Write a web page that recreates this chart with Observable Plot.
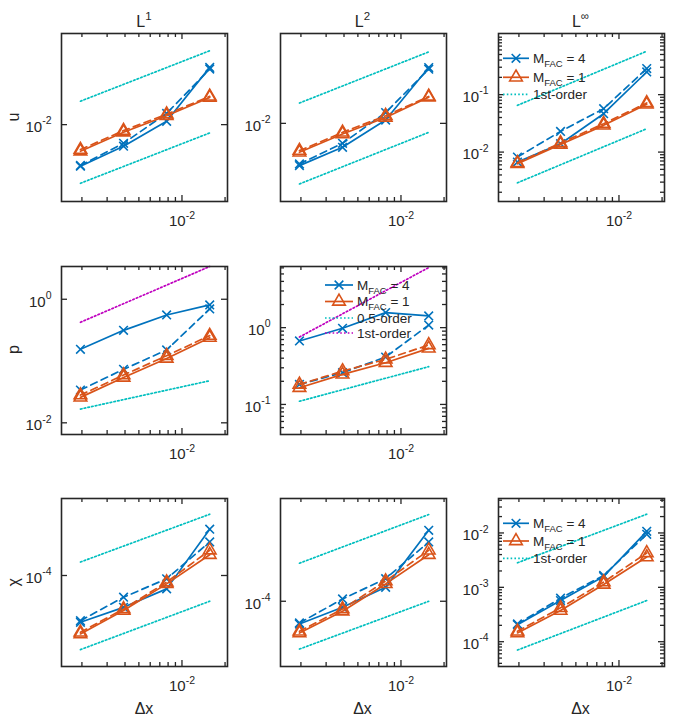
<!DOCTYPE html>
<html>
<head>
<meta charset="utf-8">
<script src="https://cdn.jsdelivr.net/npm/d3@7"></script>
<script src="https://cdn.jsdelivr.net/npm/@observablehq/plot@0.6"></script>
<style>
html, body { margin: 0; padding: 0; background: #fff; }
#fig { position: relative; width: 674px; height: 723px; overflow: hidden; font-family: "Liberation Sans", Arial, Helvetica, sans-serif; }
#fig svg { position: absolute; }
</style>
</head>
<body>
<div id="fig"></div>
<script>
// ---------------- data ----------------
const dx = [1/512, 1/256, 1/128, 1/64];          // grid spacing
const colTitles = ["L", "L", "L"];
const colSups = ["1", "2", "\u221E"];
const rowLabels = ["u", "p", "\u03C7"];
const xLabel = "\u0394x";
const xMajor = [1e-2];

// u
const u_L1_m4  = [4.25e-3, 6.41e-3, 1.07e-2, 3.25e-2];
const u_L1_m4b = [4.31e-3, 6.81e-3, 1.26e-2, 3.14e-2];
const u_L1_m1  = [5.78e-3, 8.55e-3, 1.20e-2, 1.75e-2];
const u_L1_m1b = [5.98e-3, 8.84e-3, 1.24e-2, 1.79e-2];
const u_L1_refHi = [1.62e-2, 4.58e-2];
const u_L1_refLo = [2.99e-3, 8.43e-3];

const u_L2_m4  = [4.19e-3, 6.11e-3, 1.07e-2, 3.16e-2];
const u_L2_m4b = [4.34e-3, 6.63e-3, 1.25e-2, 3.05e-2];
const u_L2_m1  = [5.51e-3, 8.03e-3, 1.13e-2, 1.71e-2];
const u_L2_m1b = [5.70e-3, 8.31e-3, 1.17e-2, 1.74e-2];
const u_L2_refHi = [1.52e-2, 4.36e-2];
const u_L2_refLo = [2.87e-3, 8.31e-3];

const u_Li_m4  = [6.69e-3, 1.40e-2, 4.66e-2, 0.248];
const u_Li_m4b = [8.18e-3, 2.29e-2, 5.70e-2, 0.284];
const u_Li_m1  = [6.26e-3, 1.36e-2, 2.92e-2, 6.78e-2];
const u_Li_m1b = [6.51e-3, 1.44e-2, 3.12e-2, 7.16e-2];
const u_Li_refHi = [6.52e-2, 0.57];
const u_Li_refLo = [2.92e-3, 2.55e-2];

// p
const p_L1_m4  = [0.155, 0.314, 0.557, 0.81];
const p_L1_m4b = [0.0339, 0.0733, 0.151, 0.697];
const p_L1_m1  = [0.0258, 0.0543, 0.110, 0.239];
const p_L1_m1b = [0.0281, 0.0593, 0.122, 0.258];
const p_L1_refHalf = [0.0167, 0.048];
const p_L1_refOne  = [0.424, 3.39];

const p_L2_m4  = [0.670, 0.98, 1.57, 1.42];
const p_L2_m4b = [0.182, 0.259, 0.414, 1.08];
const p_L2_m1  = [0.165, 0.246, 0.349, 0.537];
const p_L2_m1b = [0.182, 0.272, 0.386, 0.594];
const p_L2_refHalf = [0.110, 0.310];
const p_L2_refOne  = [0.755, 6.06];

// chi
const c_L1_m4  = [3.62e-5, 5.01e-5, 7.48e-5, 2.73e-4];
const c_L1_m4b = [3.75e-5, 6.24e-5, 9.30e-5, 2.07e-4];
const c_L1_m1  = [2.81e-5, 4.67e-5, 8.34e-5, 1.57e-4];
const c_L1_m1b = [2.91e-5, 4.84e-5, 8.65e-5, 1.73e-4];
const c_L1_refHi = [1.34e-4, 3.78e-4];
const c_L1_refLo = [2.0e-5, 5.72e-5];

const c_L2_m4  = [6.14e-5, 8.79e-5, 1.35e-4, 4.57e-4];
const c_L2_m4b = [6.28e-5, 1.05e-4, 1.62e-4, 3.56e-4];
const c_L2_m1  = [5.06e-5, 8.07e-5, 1.45e-4, 2.71e-4];
const c_L2_m1b = [5.25e-5, 8.48e-5, 1.54e-4, 2.98e-4];
const c_L2_refHi = [2.26e-4, 6.41e-4];
const c_L2_refLo = [3.59e-5, 1.0e-4];

const c_Li_m4  = [2.06e-4, 5.71e-4, 1.58e-3, 1.07e-2];
const c_Li_m4b = [2.12e-4, 6.31e-4, 1.65e-3, 9.45e-3];
const c_Li_m1  = [1.45e-4, 3.74e-4, 1.13e-3, 3.60e-3];
const c_Li_m1b = [1.55e-4, 4.19e-4, 1.25e-3, 4.28e-3];
const c_Li_refHi = [2.83e-3, 2.21e-2];
const c_Li_refLo = [7.02e-5, 5.71e-4];

const legendLabels = ["4", "1"];       // M_FAC values
const refLabels = ["0.5-order", "1st-order"];

// ---------------- styling / layout ----------------
const AX = "#262626";
const BLUE = "#0072BD", ORANGE = "#D95319", CYAN = "#00BFBF", MAGENTA = "#BF00BF";
const W = 166, H = 168;
const ML = 60, MR = 14, MT = 12, MB = 36;
const xDomain = [1.44e-3, 2.08e-2];
const colLeft = [61, 279.5, 497.5];
const rowTop = [33, 265.5, 498.3];

const panels = [
  {col: 0, row: 0, yDomain: [10 ** -2.6875, 10 ** -1.185], yTicks: [1e-2], minor: false,
   m4: u_L1_m4, m4b: u_L1_m4b, m1: u_L1_m1, m1b: u_L1_m1b, refs: [[u_L1_refHi, CYAN], [u_L1_refLo, CYAN]]},
  {col: 1, row: 0, yDomain: [10 ** -2.699, 10 ** -1.196], yTicks: [1e-2], minor: false,
   m4: u_L2_m4, m4b: u_L2_m4b, m1: u_L2_m1, m1b: u_L2_m1b, refs: [[u_L2_refHi, CYAN], [u_L2_refLo, CYAN]]},
  {col: 2, row: 0, yDomain: [1.38e-3, 1.16], yTicks: [1e-2, 1e-1], minor: true,
   m4: u_Li_m4, m4b: u_Li_m4b, m1: u_Li_m1, m1b: u_Li_m1b, refs: [[u_Li_refHi, CYAN], [u_Li_refLo, CYAN]]},
  {col: 0, row: 1, yDomain: [6.47e-3, 3.39], yTicks: [1e-2, 1e0], minor: false,
   m4: p_L1_m4, m4b: p_L1_m4b, m1: p_L1_m1, m1b: p_L1_m1b, refs: [[p_L1_refOne, MAGENTA], [p_L1_refHalf, CYAN]]},
  {col: 1, row: 1, yDomain: [0.0406, 6.25], yTicks: [1e-1, 1e0], minor: true,
   m4: p_L2_m4, m4b: p_L2_m4b, m1: p_L2_m1, m1b: p_L2_m1b, refs: [[p_L2_refOne, MAGENTA], [p_L2_refHalf, CYAN]]},
  {col: 0, row: 2, yDomain: [10 ** -4.858, 10 ** -3.274], yTicks: [1e-4], minor: false,
   m4: c_L1_m4, m4b: c_L1_m4b, m1: c_L1_m1, m1b: c_L1_m1b, refs: [[c_L1_refHi, CYAN], [c_L1_refLo, CYAN]]},
  {col: 1, row: 2, yDomain: [10 ** -4.607, 10 ** -3.044], yTicks: [1e-4], minor: false,
   m4: c_L2_m4, m4b: c_L2_m4b, m1: c_L2_m1, m1b: c_L2_m1b, refs: [[c_L2_refHi, CYAN], [c_L2_refLo, CYAN]]},
  {col: 2, row: 2, yDomain: [3.5e-5, 0.043], yTicks: [1e-4, 1e-3, 1e-2], minor: true,
   m4: c_Li_m4, m4b: c_Li_m4b, m1: c_Li_m1, m1b: c_Li_m1b, refs: [[c_Li_refHi, CYAN], [c_Li_refLo, CYAN]]}
];

function decadeTicks(domain) {
  const [lo, hi] = domain, out = [];
  for (let e = Math.floor(Math.log10(lo)) - 1; e <= Math.ceil(Math.log10(hi)); e++)
    for (let k = 1; k <= 9; k++) { const v = k * Math.pow(10, e); if (v >= lo * 0.9999 && v <= hi * 1.0001) out.push(v); }
  return out;
}
const notIn = (arr) => (v) => !arr.some(m => Math.abs(v / m - 1) < 1e-6);
const pts = (vals) => dx.map((x, i) => ({x, y: vals[i]}));
const refPts = (vals) => [{x: dx[0], y: vals[0]}, {x: dx[dx.length - 1], y: vals[1]}];
const fmt = (d) => "10^" + Math.round(Math.log10(d));

const fig = document.getElementById("fig");

function supify(svg) {
  d3.select(svg).selectAll('g[aria-label$="tick label"] text').each(function () {
    const t = this.textContent;
    const parts = t.split("^");
    if (parts.length < 2) return;
    const s = d3.select(this);
    s.text(null);
    s.append("tspan").text(parts[0]);
    s.append("tspan").attr("dy", "-0.72em").attr("font-size", "0.7em").text(parts[1]);
  });
}

for (const p of panels) {
  const xMinor = decadeTicks(xDomain).filter(notIn(xMajor));
  const yMinor = p.minor ? decadeTicks(p.yDomain).filter(notIn(p.yTicks)) : [];
  const tk = {stroke: AX, strokeWidth: 1.3};
  const lineW = 1.7;
  const marks = [];
  for (const [vals, color] of p.refs)
    marks.push(Plot.line(refPts(vals), {x: "x", y: "y", stroke: color, strokeWidth: 1.7, strokeDasharray: "1.6,2.2"}));
  marks.push(
    Plot.line(pts(p.m4), {x: "x", y: "y", stroke: BLUE, strokeWidth: lineW}),
    Plot.line(pts(p.m4b), {x: "x", y: "y", stroke: BLUE, strokeWidth: lineW, strokeDasharray: "7,4.5"}),
    Plot.dot(pts(p.m4), {x: "x", y: "y", symbol: "times", r: 4, stroke: BLUE, strokeWidth: 1.6, fill: "none"}),
    Plot.dot(pts(p.m4b), {x: "x", y: "y", symbol: "times", r: 4, stroke: BLUE, strokeWidth: 1.6, fill: "none"}),
    Plot.line(pts(p.m1), {x: "x", y: "y", stroke: ORANGE, strokeWidth: lineW}),
    Plot.line(pts(p.m1b), {x: "x", y: "y", stroke: ORANGE, strokeWidth: lineW, strokeDasharray: "7,4.5"}),
    Plot.dot(pts(p.m1), {x: "x", y: "y", symbol: "triangle", r: 4.7, stroke: ORANGE, strokeWidth: 1.6, fill: "none"}),
    Plot.dot(pts(p.m1b), {x: "x", y: "y", symbol: "triangle", r: 4.7, stroke: ORANGE, strokeWidth: 1.6, fill: "none"}),
    // inward ticks on all four sides
    Plot.ruleX(xMajor, {x: d => d, insetTop: H - 6, ...tk}),
    Plot.ruleX(xMajor, {x: d => d, insetBottom: H - 6, ...tk}),
    Plot.ruleX(xMinor, {x: d => d, insetTop: H - 4, ...tk}),
    Plot.ruleX(xMinor, {x: d => d, insetBottom: H - 4, ...tk}),
    Plot.ruleY(p.yTicks, {y: d => d, insetRight: W - 6, ...tk}),
    Plot.ruleY(p.yTicks, {y: d => d, insetLeft: W - 6, ...tk}),
    Plot.ruleY(yMinor, {y: d => d, insetRight: W - 4, ...tk}),
    Plot.ruleY(yMinor, {y: d => d, insetLeft: W - 4, ...tk}),
    Plot.frame({stroke: AX, strokeWidth: 1.6}),
    Plot.axisX(xMajor, {anchor: "bottom", tickSize: 0, tickPadding: 14, tickFormat: fmt, fontSize: 15, fill: AX, label: null}),
    Plot.axisY(p.yTicks, {anchor: "left", tickSize: 0, tickPadding: 10, tickFormat: fmt, fontSize: 15, fill: AX, dy: 2.5, label: null})
  );
  const svg = Plot.plot({
    width: W + ML + MR, height: H + MT + MB,
    marginLeft: ML, marginRight: MR, marginTop: MT, marginBottom: MB,
    x: {type: "log", domain: xDomain, axis: null, label: null},
    y: {type: "log", domain: p.yDomain, axis: null, label: null},
    style: {fontFamily: '"Liberation Sans", Arial, Helvetica, sans-serif', background: "transparent", overflow: "visible"},
    marks
  });
  svg.style.left = (colLeft[p.col] - ML) + "px";
  svg.style.top = (rowTop[p.row] - MT) + "px";
  svg.style.maxWidth = "none";
  supify(svg);
  fig.appendChild(svg);
}

// ---------------- annotation overlay: titles, row labels, x labels, legends ----------------
const ov = d3.select(fig).append("svg")
  .attr("width", 674).attr("height", 723)
  .style("left", "0px").style("top", "0px").style("pointer-events", "none")
  .attr("font-family", '"Liberation Sans", Arial, Helvetica, sans-serif')
  .attr("fill", AX);

colTitles.forEach((t, i) => {
  const cx = colLeft[i] + W / 2;
  const tx = ov.append("text").attr("x", cx).attr("y", 27).attr("text-anchor", "middle").attr("font-size", 16);
  tx.append("tspan").text(t);
  tx.append("tspan").attr("dy", -7).attr("font-size", 11.5).text(colSups[i]);
});
rowLabels.forEach((t, i) => {
  const cy = rowTop[i] + H / 2;
  ov.append("text").attr("transform", `translate(18.5,${cy}) rotate(-90)`)
    .attr("text-anchor", "middle").attr("font-size", 16).text(t);
});
[0, 1, 2].forEach(i => {
  ov.append("text").attr("x", colLeft[i] + W / 2).attr("y", 713.5)
    .attr("text-anchor", "middle").attr("font-size", 16).text(xLabel);
});

function legend(x0, ys, items, len) {
  items.forEach((it, i) => {
    const y = ys[i];
    const g = ov.append("g");
    g.append("line").attr("x1", x0).attr("x2", x0 + len).attr("y1", y).attr("y2", y)
      .attr("stroke", it.color).attr("stroke-width", it.kind === "ref" ? 1.7 : 1.7)
      .attr("stroke-dasharray", it.kind === "ref" ? "1.6,2.2" : null);
    if (it.kind === "m4")
      g.append("path").attr("d", d3.symbol(d3.symbolTimes, Math.PI * 16)())
        .attr("transform", `translate(${x0 + len / 2},${y})`).attr("fill", "none").attr("stroke", it.color).attr("stroke-width", 1.6);
    if (it.kind === "m1")
      g.append("path").attr("d", d3.symbol(d3.symbolTriangle, Math.PI * 4.7 * 4.7)())
        .attr("transform", `translate(${x0 + len / 2},${y})`).attr("fill", "none").attr("stroke", it.color).attr("stroke-width", 1.6);
    const tx = g.append("text").attr("x", x0 + len + 4).attr("y", y + 4.5).attr("font-size", 13.5);
    if (it.kind === "ref") tx.text(it.label);
    else {
      tx.append("tspan").text("M");
      tx.append("tspan").attr("dy", 4).attr("font-size", 9.5).text("FAC");
      tx.append("tspan").attr("dy", -4).text(" = " + it.label);
    }
  });
}
legend(503, [58.3, 77.3, 94.3], [
  {kind: "m4", color: BLUE, label: legendLabels[0]},
  {kind: "m1", color: ORANGE, label: legendLabels[1]},
  {kind: "ref", color: CYAN, label: refLabels[1]}], 26);
legend(325, [285, 301.5, 318, 333], [
  {kind: "m4", color: BLUE, label: legendLabels[0]},
  {kind: "m1", color: ORANGE, label: legendLabels[1]},
  {kind: "ref", color: CYAN, label: refLabels[0]},
  {kind: "ref", color: MAGENTA, label: refLabels[1]}], 28);
legend(503, [523.3, 541, 558.3], [
  {kind: "m4", color: BLUE, label: legendLabels[0]},
  {kind: "m1", color: ORANGE, label: legendLabels[1]},
  {kind: "ref", color: CYAN, label: refLabels[1]}], 26);
</script>
</body>
</html>
